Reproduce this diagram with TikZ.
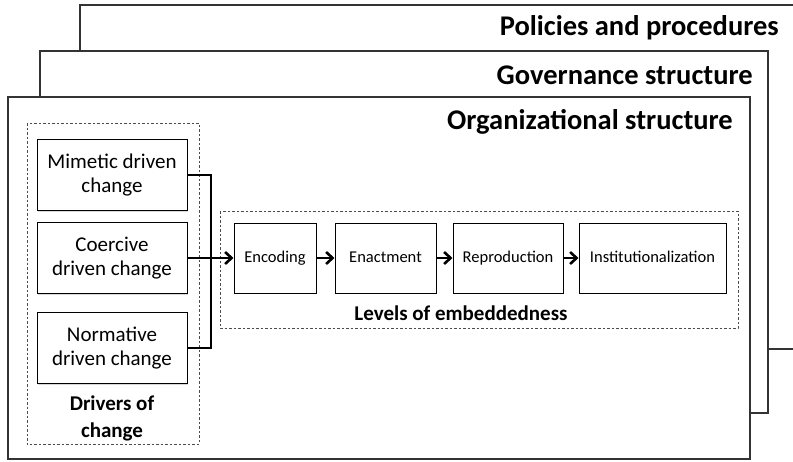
\documentclass[tikz,border=0pt]{standalone}
\usepackage{fontspec}
\setmainfont{Carlito}
\usetikzlibrary{arrows.meta,shadows}
\begin{document}
\begin{tikzpicture}[x=1pt,y=-1pt,
  frame/.style={draw=black!80,line width=1.1pt,fill=white,
    drop shadow={opacity=0.35,shadow xshift=1.2pt,shadow yshift=-1.2pt}},
  group/.style={draw=black!70,dashed,dash pattern=on 2.5pt off 2pt,line width=0.8pt},
  drv/.style={draw=black,line width=1pt,fill=white,minimum width=150pt,minimum height=71pt,
    align=center,font=\fontsize{21}{24}\selectfont,inner sep=0pt,
    drop shadow={opacity=0.3,shadow xshift=1pt,shadow yshift=-1pt}},
  lvl/.style={draw=black,line width=1pt,fill=white,minimum height=70pt,
    font=\fontsize{16.5}{19}\selectfont,inner sep=0pt,
    text height=11.5pt,text depth=3.5pt,
    drop shadow={opacity=0.3,shadow xshift=1pt,shadow yshift=-1pt}},
  title/.style={anchor=east,font=\fontsize{28.5}{32}\bfseries\selectfont,inner sep=0pt},
  lab/.style={font=\fontsize{21}{27}\bfseries\selectfont,align=center,inner sep=0pt},
  conn/.style={draw=black,line width=2.6pt},
  arr/.style={conn,-{Straight Barb[length=6.5pt,width=12pt,line width=2.6pt]}},
]
\useasboundingbox (0,0) rectangle (793,461);
\clip (0,0) rectangle (793,461);
\fill[white] (0,0) rectangle (793,461);
% frames
\draw[frame] (80,5) rectangle (820,349);
\node[title] (tpol) at (779,28) {Policies and procedures};
\draw[frame] (40,51) rectangle (768,413);
\node[title] (tgov) at (753,75) {Governance structure};
\draw[frame] (8,97) rectangle (750,459);
\node[title] (torg) at (733,122) {Organizational structure};
% groups
\draw[group] (27,123) rectangle (199,444);
\draw[group] (220,211) rectangle (738,328);
% drivers
\node[drv] (mim) at (112,175) {Mimetic driven\\change};
\node[drv] (coe) at (112,258) {Coercive\\driven change};
\node[drv] (nor) at (112,348) {Normative\\driven change};
\node[lab] (ldrv) at (112,418) {Drivers of\\change};
% levels
\node[lvl,minimum width=82pt] (enc) at (275,258) {Encoding};
\node[lvl,minimum width=101pt] (ena) at (385.5,258) {Enactment};
\node[lvl,minimum width=110pt] (rep) at (508,258) {Reproduction};
\node[lvl,minimum width=147pt] (ins) at (652.5,258) {Institutionalization};
\node[lab] (llvl) at (461,313) {Levels of embeddedness};
% connectors
\coordinate (jx) at (211,175);
\draw[conn] (mim.east) -- (jx) |- (nor.east);
\draw[arr] (coe.east) -- (enc.west);
\draw[arr] (enc.east) -- (ena.west);
\draw[arr] (ena.east) -- (rep.west);
\draw[arr] (rep.east) -- (ins.west);
\end{tikzpicture}
\end{document}
